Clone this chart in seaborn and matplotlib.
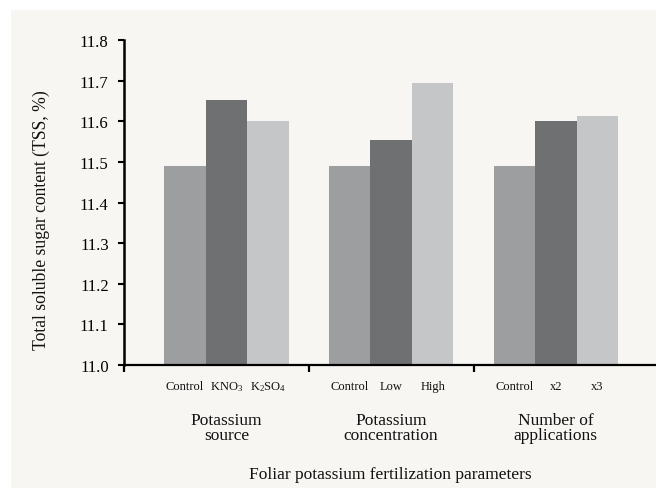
import matplotlib
matplotlib.use("Agg")
import matplotlib.pyplot as plt
from matplotlib.patches import Rectangle
import seaborn as sns
import pandas as pd

# ---- data ----
groups = ["Potassium\nsource", "Potassium\nconcentration", "Number of\napplications"]
sub_labels = [["Control", r"KNO$_3$", r"K$_2$SO$_4$"],
              ["Control", "Low", "High"],
              ["Control", "x2", "x3"]]
level_idx = ["L1", "L2", "L3"]
values = [[11.489, 11.653, 11.600],
          [11.489, 11.555, 11.693],
          [11.489, 11.600, 11.614]]
y_ticks = [11.0, 11.1, 11.2, 11.3, 11.4, 11.5, 11.6, 11.7, 11.8]
y_label = "Total soluble sugar content (TSS, %)"
x_label = "Foliar potassium fertilization parameters"
colors = ["#9d9ea0", "#6f7072", "#c5c6c8"]

rows = []
for gi, g in enumerate(groups):
    for li, lv in enumerate(level_idx):
        rows.append({"group": g, "level": lv, "value": values[gi][li]})
df = pd.DataFrame(rows)

sns.set_style("ticks")
plt.rcParams["font.family"] = ["Liberation Serif", "DejaVu Serif"]
plt.rcParams["mathtext.fontset"] = "custom"
plt.rcParams["mathtext.rm"] = "Liberation Serif"
plt.rcParams["mathtext.it"] = "Liberation Serif:italic"

W, H = 656, 489
fig = plt.figure(figsize=(W / 100, H / 100), dpi=100, facecolor="white")
bg = "#f7f6f2"
fig.patches.append(Rectangle((11 / W, 0), 1 - 11 / W, 1 - 11 / H,
                             transform=fig.transFigure, facecolor=bg,
                             edgecolor="none", zorder=-10))

ax = fig.add_axes([124 / W, (H - 366) / H, (W - 124) / W, (366 - 41) / H])
ax.set_facecolor(bg)

bw = 0.756
sns.barplot(data=df, x="group", y="value", hue="level", hue_order=level_idx,
            palette=colors, width=bw, saturation=1, legend=False,
            errorbar=None, ax=ax, linewidth=0)

ax.set_ylim(11.0, 11.8)
ax.set_yticks(y_ticks)
ax.set_yticklabels([f"{t:.1f}" for t in y_ticks], fontsize=12)
xmin, xmax = -0.622, 2.608
ax.set_xlim(xmin, xmax)
ax.set_xticks([xmin, 0.5, 1.5])
ax.set_xticklabels(["", "", ""])
ax.tick_params(axis="x", direction="out", length=5, width=1.6, color="black")
ax.tick_params(axis="y", direction="out", length=4, width=1.5, pad=7, color="black",
               labelcolor="black")
ax.set_xlabel("")
ax.set_ylabel("")
for s in ["top", "right"]:
    ax.spines[s].set_visible(False)
ax.spines["left"].set_linewidth(1.8)
ax.spines["bottom"].set_linewidth(1.6)
ax.spines["left"].set_color("black")
ax.spines["bottom"].set_color("black")

tr = ax.get_xaxis_transform()
step = bw / len(level_idx)
for gi, g in enumerate(groups):
    for li in range(len(level_idx)):
        xc = gi + (li - 1) * step
        ax.annotate(sub_labels[gi][li], xy=(xc, 0), xycoords=tr,
                    xytext=(0, -14.9), textcoords="offset points",
                    ha="center", va="center", fontsize=9, color="#111111")
    ax.annotate(g, xy=(gi, 0), xycoords=tr, xytext=(0, -45), textcoords="offset points",
                ha="center", va="center", fontsize=12.5, linespacing=0.95, color="#111111")

ax.annotate(x_label, xy=(0.5, 0), xycoords="axes fraction", xytext=(0, -78.5),
            textcoords="offset points", ha="center", va="center", fontsize=12.5,
            color="#111111")
fig.text(41 / W, 1 - 220 / H, y_label, rotation=90, ha="center", va="center",
         fontsize=12.7, color="#111111")

fig.savefig("out.png", dpi=100, facecolor="white")
